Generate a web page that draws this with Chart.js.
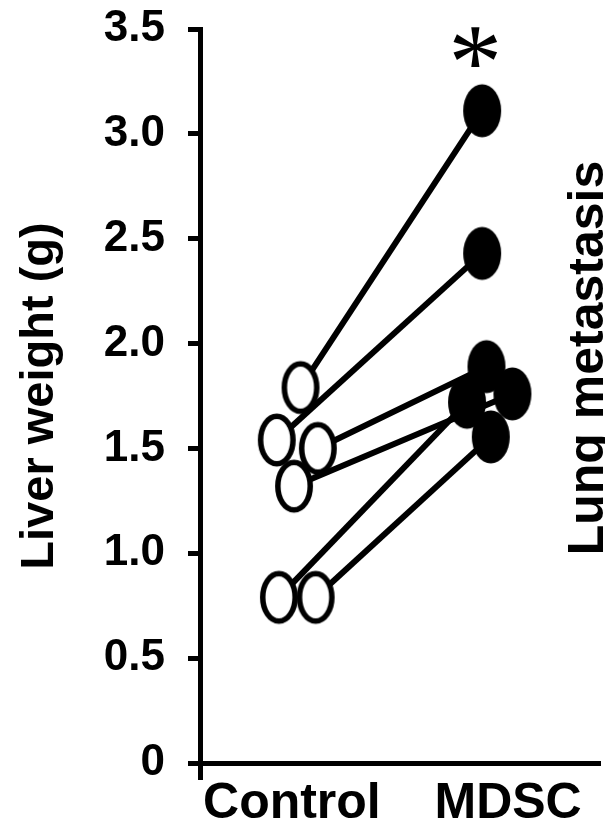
<!DOCTYPE html>
<html lang="en">
<head>
<meta charset="UTF-8" />
<title>Liver weight: Control vs MDSC</title>
<script src="https://cdn.jsdelivr.net/npm/chart.js@4"></script>
<style>
  html, body { margin: 0; padding: 0; background: #fff; }
</style>
</head>
<body>
<canvas id="myChart" width="605" height="825"></canvas>
<script>
// values, one mouse per index (Control -> MDSC)
const groups = ["Control", "MDSC"];
const controlWeights = [1.79, 1.54, 1.50, 1.32, 0.79, 0.79];
const mdscWeights = [3.11, 2.43, 1.89, 1.76, 1.72, 1.555];
// small horizontal scatter of the dots around their group
const controlJitter = [0.04, -0.07, 0.12, 0.01, -0.06, 0.11];
const mdscJitter = [-0.12, -0.12, -0.10, 0.02, -0.19, -0.08];
const yTicks = [0, 0.5, 1.0, 1.5, 2.0, 2.5, 3.0, 3.5];

const FONT = "'Liberation Sans', Arial, sans-serif";
const X_MIN = 0.575, X_MAX = 2.425;

function ellipseMarker(filled) {
  const c = document.createElement("canvas");
  c.width = 40;
  c.height = 56;
  const g = c.getContext("2d");
  g.beginPath();
  if (filled) {
    g.ellipse(20, 28, 19, 26.5, 0, 0, Math.PI * 2);
    g.fillStyle = "#000";
    g.fill();
  } else {
    g.ellipse(20, 28, 16.2, 23.7, 0, 0, Math.PI * 2);
    g.fillStyle = "#fff";
    g.fill();
    g.lineWidth = 5.5;
    g.strokeStyle = "#000";
    g.stroke();
  }
  return c;
}

const controlPts = controlWeights.map((v, i) => ({ x: 1 + controlJitter[i], y: v }));
const mdscPts = mdscWeights.map((v, i) => ({ x: 2 + mdscJitter[i], y: v }));

const pairSets = controlPts.map((p, i) => ({
  data: [p, mdscPts[i]],
  showLine: true,
  borderColor: "#000",
  borderWidth: 6,
  pointRadius: 0,
  order: 2,
}));

// rotated side label + significance star
const extras = {
  id: "extras",
  afterDatasetsDraw(chart) {
    const ctx = chart.ctx;
    ctx.save();
    ctx.fillStyle = "#000";
    ctx.font = "bold 50px " + FONT;
    ctx.translate(603, 358);
    ctx.rotate(-Math.PI / 2);
    ctx.textAlign = "center";
    ctx.textBaseline = "alphabetic";
    ctx.fillText("Lung metastasis", 0, 0);
    ctx.restore();

    const meta = chart.getDatasetMeta(chart.data.datasets.length - 1);
    let top = 0;
    mdscWeights.forEach((v, i) => { if (v > mdscWeights[top]) top = i; });
    const el = meta.data[top];
    ctx.save();
    ctx.fillStyle = "#000";
    ctx.font = "108px 'Liberation Serif', serif";
    ctx.textAlign = "center";
    ctx.textBaseline = "middle";
    ctx.fillText("*", el.x - 7, el.y - 41);
    ctx.restore();
  },
};

new Chart(document.getElementById("myChart"), {
  type: "scatter",
  data: {
    datasets: [
      ...pairSets,
      { data: controlPts, pointStyle: ellipseMarker(false), order: 1 },
      { data: mdscPts, pointStyle: ellipseMarker(true), order: 0 },
    ],
  },
  options: {
    responsive: false,
    animation: false,
    layout: { padding: { top: 29, right: 0, left: 0, bottom: 0 } },
    plugins: { legend: { display: false }, tooltip: { enabled: false } },
    scales: {
      x: {
        type: "linear",
        min: X_MIN,
        max: X_MAX,
        afterBuildTicks: (s) => { s.ticks = [{ value: X_MIN }, { value: 1 }, { value: 2 }]; },
        afterFit: (s) => { s.height = 62; s.paddingLeft = 0; s.paddingRight = 0; },
        ticks: {
          autoSkip: false,
          maxRotation: 0,
          padding: -6,
          color: "#000",
          font: { family: FONT, size: 50, weight: "bold" },
          callback: (v) => (v === 1 ? groups[0] : v === 2 ? groups[1] : ""),
        },
        grid: {
          drawOnChartArea: false,
          tickLength: 17,
          tickWidth: 5,
          tickColor: (c) => (c.tick && c.tick.value === X_MIN ? "#000" : "rgba(0,0,0,0)"),
        },
        border: { color: "#000", width: 5 },
      },
      y: {
        min: 0,
        max: 3.5,
        afterBuildTicks: (s) => { s.ticks = yTicks.map((v) => ({ value: v })); },
        afterFit: (s) => { s.width = 200; s.paddingTop = 0; s.paddingBottom = 0; },
        ticks: {
          padding: 23,
          color: "#000",
          font: { family: FONT, size: 44, weight: "bold" },
          callback: (v) => (v === 0 ? "0" : v.toFixed(1)),
        },
        grid: {
          drawOnChartArea: false,
          tickLength: 12,
          tickWidth: 5,
          tickColor: "#000",
        },
        border: { color: "#000", width: 5 },
        title: {
          display: true,
          text: "Liver weight (g)",
          color: "#000",
          padding: { top: 12, bottom: 0 },
          font: { family: FONT, size: 47, weight: "bold" },
        },
      },
    },
  },
  plugins: [extras],
});
</script>
</body>
</html>
